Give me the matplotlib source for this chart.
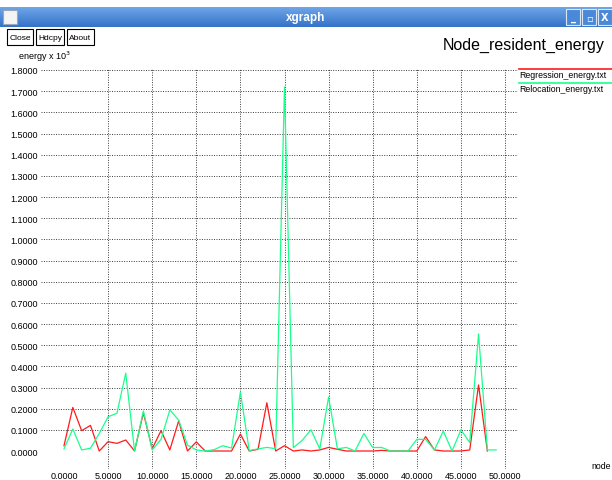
import numpy as np
import matplotlib
matplotlib.use("Agg")
import matplotlib.pyplot as plt
from matplotlib.patches import Rectangle

# node ids on the x axis
nodes_reg = list(range(0, 49))
nodes_rel = list(range(0, 50))

# residual energy (x 10^3)
regression_energy = [
    0.025, 0.206, 0.096, 0.121, 0.000, 0.044, 0.036, 0.052, 0.000, 0.180,
    0.011, 0.096, 0.005, 0.142, 0.000, 0.043, 0.000, 0.000, 0.000, 0.000,
    0.080, 0.000, 0.008, 0.228, 0.000, 0.025, 0.000, 0.005, 0.000, 0.005,
    0.017, 0.008, 0.000, 0.000, 0.000, 0.000, 0.003, 0.000, 0.000, 0.000,
    0.000, 0.068, 0.005, 0.000, 0.000, 0.000, 0.005, 0.312, 0.000,
]
relocation_energy = [
    0.010, 0.104, 0.005, 0.013, 0.083, 0.162, 0.178, 0.368, 0.000, 0.189,
    0.005, 0.055, 0.194, 0.146, 0.028, 0.005, 0.000, 0.006, 0.025, 0.014,
    0.278, 0.002, 0.010, 0.017, 0.011, 1.720, 0.016, 0.050, 0.100, 0.010,
    0.255, 0.010, 0.017, 0.000, 0.083, 0.016, 0.017, 0.000, 0.000, 0.000,
    0.055, 0.055, 0.005, 0.094, 0.000, 0.100, 0.040, 0.553, 0.005, 0.005,
]

series_names = ["Regression_energy.txt", "Relocation_energy.txt"]
series_colors = ["#ff1a1a", "#1aff8c"]

x_ticks = [0, 5, 10, 15, 20, 25, 30, 35, 40, 45, 50]
y_ticks = [round(0.1 * i, 1) for i in range(19)]

W, H = 612, 481
NARROW = ["Liberation Sans Narrow", "Liberation Sans", "DejaVu Sans"]

fig = plt.figure(figsize=(W / 100, H / 100), dpi=100)
fig.patch.set_facecolor("white")

# --- window chrome (pixel coordinates) ---
chrome = fig.add_axes([0, 0, 1, 1])
chrome.set_xlim(0, W)
chrome.set_ylim(H, 0)
chrome.axis("off")

grad = np.linspace(0, 1, 50).reshape(-1, 1)
top = np.array([0x6e, 0xa6, 0xe8]) / 255
bot = np.array([0x35, 0x72, 0xc8]) / 255
img = top + (bot - top) * grad[..., None]
img = np.repeat(img, 2, axis=1)
chrome.imshow(img, extent=(0, W, 28, 8), aspect="auto", zorder=1)
chrome.add_patch(Rectangle((3, 11), 14, 14, facecolor="#f4f4f4",
                           edgecolor="#9aa8b8", lw=0.8, zorder=2))
chrome.text(W / 2, 18.5, "xgraph", color="white", fontsize=8.5,
            fontweight="bold", ha="center", va="center",
            family=["Liberation Sans", "DejaVu Sans"], zorder=3)
for bx, sym in [(566, "_"), (582, "▫"), (598, "X")]:
    chrome.add_patch(Rectangle((bx, 10), 14, 16, facecolor="#4a88d8",
                               edgecolor="#d8e6f6", lw=0.8, zorder=2))
    chrome.text(bx + 7, 18, sym, color="white", fontsize=7, fontweight="bold",
                ha="center", va="center", family=["DejaVu Sans"], zorder=3)

for bx, bw, label in [(7, 26, "Close"), (36, 28, "Hdcpy"), (67, 27, "About")]:
    chrome.add_patch(Rectangle((bx, 30), bw, 16, facecolor="white",
                               edgecolor="black", lw=0.8, zorder=2))
    chrome.text(bx + bw / 2, 38.5, label, fontsize=6, ha="center",
                va="center", family=NARROW, zorder=3)

chrome.text(443, 45, "Node_resident_energy", fontsize=11.5, ha="left",
            va="center", family=["Liberation Sans", "DejaVu Sans"])
chrome.text(18, 57, r"energy x 10$^3$", fontsize=6.5, ha="left",
            va="center", family=NARROW)
chrome.text(591, 467, "node", fontsize=6.3, ha="left", va="center",
            family=NARROW)

# legend: coloured bar above each file name
for i, (name, col) in enumerate(zip(series_names, series_colors)):
    yl = 70 + 14 * i
    chrome.plot([519, 612], [yl, yl], color=col, lw=1.2)
    chrome.text(519, yl + 6, name, fontsize=6.3, ha="left", va="center",
                family=NARROW)

# --- plot area ---
left_px, right_px, top_px, bot_px = 41, 518, 70, 470
ax = fig.add_axes([left_px / W, 1 - bot_px / H,
                   (right_px - left_px) / W, (bot_px - top_px) / H])
ax.patch.set_alpha(0)
ppx = 8.82      # pixels per node
ppy = 211.7     # pixels per energy unit
ax.set_xlim((left_px - 64) / ppx, (right_px - 64) / ppx)
ax.set_ylim(-(bot_px - 452) / ppy, 1.8 + (71 - top_px) / ppy)
for s in ax.spines.values():
    s.set_visible(False)

ax.set_xticks(x_ticks)
ax.set_xticklabels([f"{v:.4f}" for v in x_ticks])
ax.set_yticks(y_ticks)
ax.set_yticklabels([f"{v:.4f}" for v in y_ticks])
ax.tick_params(length=0, labelsize=6.5, pad=2)
ax.tick_params(axis="x", pad=1.5)
for lab in ax.get_xticklabels() + ax.get_yticklabels():
    lab.set_family(NARROW)
ax.grid(True, color="#3a3a3a", linestyle=(0, (1, 1.5)), lw=0.7)
# xgraph leaves the zero lines undrawn
ax.get_xgridlines()[0].set_visible(False)
ax.get_ygridlines()[0].set_visible(False)

ax.plot(nodes_reg, regression_energy, color=series_colors[0], lw=0.9)
ax.plot(nodes_rel, relocation_energy, color=series_colors[1], lw=0.9)

fig.savefig("out.png", dpi=100)
